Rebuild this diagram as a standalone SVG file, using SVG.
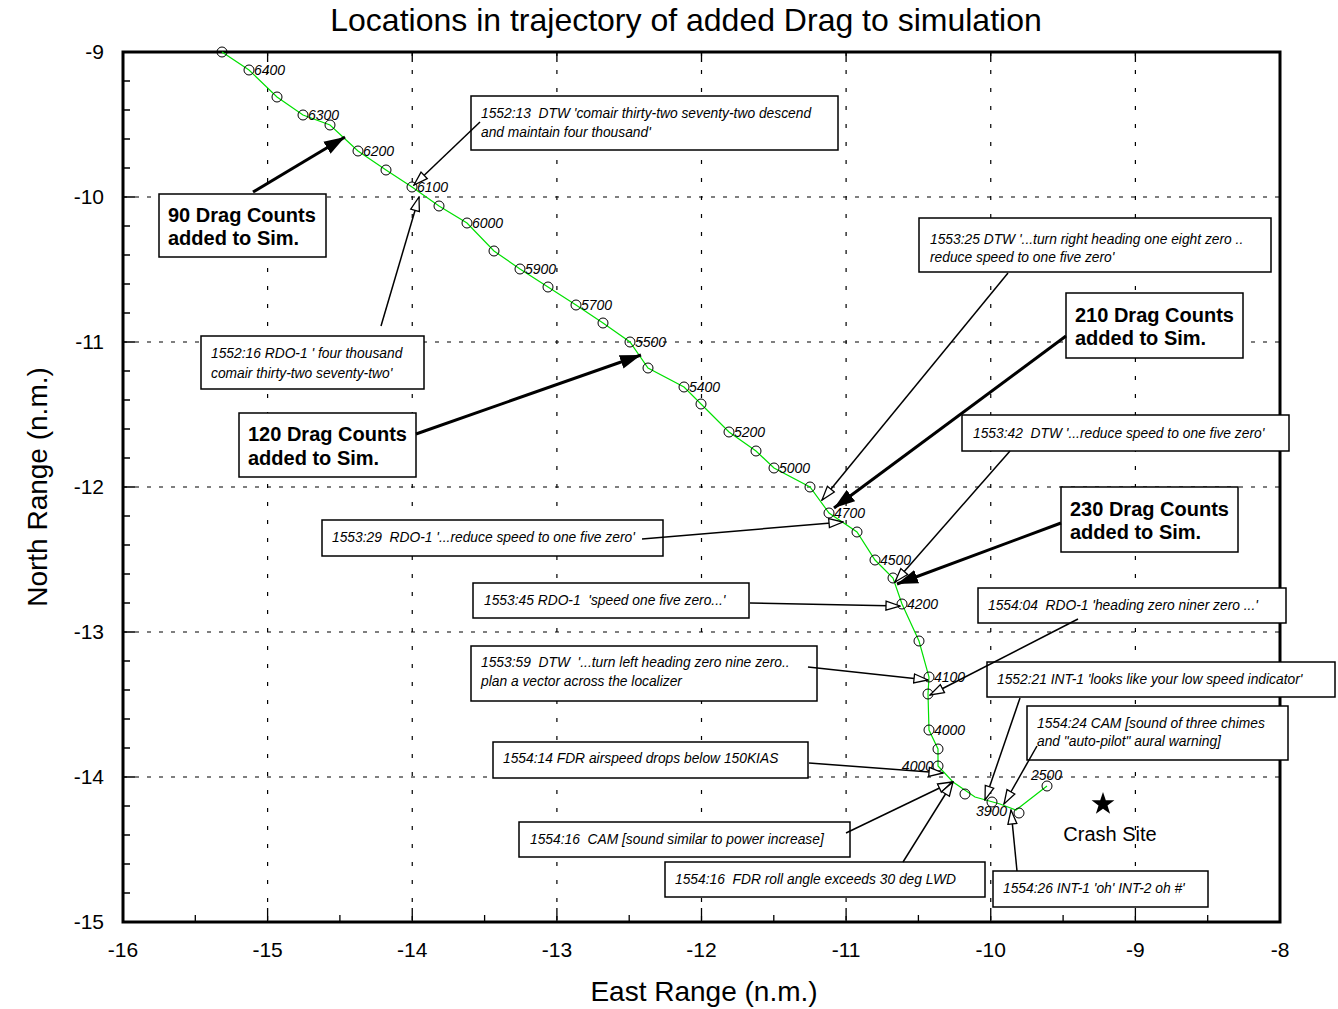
<svg xmlns="http://www.w3.org/2000/svg" width="1338" height="1009" viewBox="0 0 1338 1009">
<style>
text{font-family:"Liberation Sans",Arial,Helvetica,sans-serif;fill:#000}
.box{fill:#fff;stroke:#000;stroke-width:1.5}
.note{font-style:italic;font-size:13.8px;white-space:pre}
.big{font-weight:bold;font-size:20px}
.lbl{font-style:italic;font-size:14px}
.tick{font-size:21px}
.axis{font-size:28px}
.gv{stroke:#000;stroke-width:1.2;stroke-dasharray:4 14;fill:none}
.gh{stroke:#000;stroke-width:1.2;stroke-dasharray:4 8;fill:none}
.thin{stroke:#000;stroke-width:1.5;fill:none;marker-end:url(#open)}
.thick{stroke:#000;stroke-width:3;fill:none;marker-end:url(#solid)}
.pt{fill:none;stroke:#000;stroke-width:1}
</style>
<defs>
<marker id="open" markerUnits="userSpaceOnUse" markerWidth="16" markerHeight="12" viewBox="0 0 16 12" refX="15" refY="6" orient="auto">
<path d="M1,1.5 L15,6 L1,10.5 z" fill="#fff" stroke="#000" stroke-width="1.3"/>
</marker>
<marker id="solid" markerUnits="userSpaceOnUse" markerWidth="22" markerHeight="16" viewBox="0 0 22 16" refX="21" refY="8" orient="auto">
<path d="M0,1 L21,8 L0,15 z" fill="#000"/>
</marker>
</defs>
<rect width="1338" height="1009" fill="#fff"/>

<g id="title"><text x="686" y="31" text-anchor="middle" font-size="32">Locations in trajectory of added Drag to simulation</text></g>

<g id="grid">
<path class="gv" d="M267.6,52V922M412.25,52V922M556.9,52V922M701.5,52V922M846.1,52V922M990.75,52V922M1135.4,52V922"/>
<path class="gh" d="M123,197H1280M123,342H1280M123,487H1280M123,632H1280M123,777H1280"/>
</g>

<g id="axes">
<path stroke="#000" stroke-width="1.3" fill="none" d="M123,922v-14M195.3,922v-7M267.6,922v-14M339.9,922v-7M412.25,922v-14M484.6,922v-7M556.9,922v-14M629.2,922v-7M701.5,922v-14M773.8,922v-7M846.1,922v-14M918.4,922v-7M990.75,922v-14M1063.1,922v-7M1135.4,922v-14M1207.7,922v-7M1280,922v-14
M267.6,52v10M412.25,52v10M556.9,52v10M701.5,52v10M846.1,52v10M990.75,52v10M1135.4,52v10
M123,81h7M123,110h7M123,139h7M123,168h7M123,197h12M123,226h7M123,255h7M123,284h7M123,313h7M123,342h12M123,371h7M123,400h7M123,429h7M123,458h7M123,487h12M123,516h7M123,545h7M123,574h7M123,603h7M123,632h12M123,661h7M123,690h7M123,719h7M123,748h7M123,777h12M123,806h7M123,835h7M123,864h7M123,893h7"/>
<rect x="123" y="52" width="1157" height="870" fill="none" stroke="#000" stroke-width="3"/>
<g class="tick" text-anchor="middle">
<text x="123" y="957">-16</text><text x="267.6" y="957">-15</text><text x="412.25" y="957">-14</text><text x="556.9" y="957">-13</text><text x="701.5" y="957">-12</text><text x="846.1" y="957">-11</text><text x="990.75" y="957">-10</text><text x="1135.4" y="957">-9</text><text x="1280" y="957">-8</text>
</g>
<g class="tick" text-anchor="end">
<text x="104" y="59">-9</text><text x="104" y="204">-10</text><text x="104" y="349">-11</text><text x="104" y="494">-12</text><text x="104" y="639">-13</text><text x="104" y="784">-14</text><text x="104" y="929">-15</text>
</g>
<text class="axis" x="704" y="1001" text-anchor="middle">East Range (n.m.)</text>
<text class="axis" transform="translate(47,487) rotate(-90)" text-anchor="middle">North Range (n.m.)</text>
</g>

<g id="trajectory">
<polyline fill="none" stroke="#00e000" stroke-width="1.2" points="222,52 249,70 277,97 303,115 330,125 358,151 386,170 412,187 439,206 467,223 494,251 520,269 548,287 576,305 603,323 630,342 648,368 684,387 701,404 729,432 756,451 774,468 810,487 829,513 857,532 875,560 893,578 902,604 919,641 929,677 928,694 929,730 938,749 938,766 953,782 975,797 1000,804 1016,810 1047,786"/>
<g class="pt">
<circle cx="222" cy="52" r="5"/><circle cx="249" cy="70" r="5"/><circle cx="277" cy="97" r="5"/><circle cx="303" cy="115" r="5"/><circle cx="330" cy="125" r="5"/><circle cx="358" cy="151" r="5"/><circle cx="386" cy="170" r="5"/><circle cx="412" cy="187" r="5"/><circle cx="439" cy="206" r="5"/><circle cx="467" cy="223" r="5"/><circle cx="494" cy="251" r="5"/><circle cx="520" cy="269" r="5"/><circle cx="548" cy="287" r="5"/><circle cx="576" cy="305" r="5"/><circle cx="603" cy="323" r="5"/><circle cx="630" cy="342" r="5"/><circle cx="648" cy="368" r="5"/><circle cx="684" cy="387" r="5"/><circle cx="701" cy="404" r="5"/><circle cx="729" cy="432" r="5"/><circle cx="756" cy="451" r="5"/><circle cx="774" cy="468" r="5"/><circle cx="810" cy="487" r="5"/><circle cx="829" cy="513" r="5"/><circle cx="857" cy="532" r="5"/><circle cx="875" cy="560" r="5"/><circle cx="893" cy="578" r="5"/><circle cx="902" cy="604" r="5"/><circle cx="919" cy="641" r="5"/><circle cx="929" cy="677" r="5"/><circle cx="928" cy="694" r="5"/><circle cx="929" cy="730" r="5"/><circle cx="938" cy="749" r="5"/><circle cx="938" cy="766" r="5"/><circle cx="965" cy="794" r="5"/><circle cx="992" cy="802" r="5"/><circle cx="1019" cy="813" r="5"/><circle cx="1047" cy="786" r="5"/>
</g>
<g class="lbl">
<text x="254" y="75">6400</text><text x="308" y="120">6300</text><text x="363" y="156">6200</text><text x="417" y="192">6100</text><text x="472" y="228">6000</text><text x="525" y="274">5900</text><text x="581" y="310">5700</text><text x="635" y="347">5500</text><text x="689" y="392">5400</text><text x="734" y="437">5200</text><text x="779" y="473">5000</text><text x="834" y="518">4700</text><text x="880" y="565">4500</text><text x="907" y="609">4200</text><text x="934" y="682">4100</text><text x="934" y="735">4000</text><text x="933" y="771" text-anchor="end">4000</text><text x="976" y="816">3900</text><text x="1031" y="780">2500</text>
</g>
</g>

<g id="crash-site">
<path d="M1103,792 L1105.8,800.2 L1114.4,800.3 L1107.5,805.4 L1110.1,813.7 L1103,808.7 L1095.9,813.7 L1098.5,805.4 L1091.6,800.3 L1100.2,800.2 z" fill="#000"/>
<text x="1110" y="841" text-anchor="middle" font-size="20">Crash Site</text>
</g>

<g id="note-1552-13"><rect class="box" x="471" y="96" width="367" height="54"/><text class="note" x="481" y="118">1552:13  DTW 'comair thirty-two seventy-two descend</text><text class="note" x="481" y="137">and maintain four thousand'</text></g>
<g id="note-1552-16"><rect class="box" x="201" y="336" width="223" height="53"/><text class="note" x="211" y="358">1552:16 RDO-1 ' four thousand</text><text class="note" x="211" y="378">comair thirty-two seventy-two'</text></g>
<g id="drag-90"><rect class="box" x="159" y="194" width="167" height="63"/><text class="big" x="168" y="222">90 Drag Counts</text><text class="big" x="168" y="245">added to Sim.</text></g>
<g id="drag-120"><rect class="box" x="239" y="413" width="177" height="64"/><text class="big" x="248" y="441">120 Drag Counts</text><text class="big" x="248" y="465">added to Sim.</text></g>
<g id="note-1553-25"><rect class="box" x="919" y="218" width="352" height="54"/><text class="note" x="930" y="244">1553:25 DTW '...turn right heading one eight zero ..</text><text class="note" x="930" y="262">reduce speed to one five zero'</text></g>
<g id="drag-210"><rect class="box" x="1066" y="293" width="177" height="65"/><text class="big" x="1075" y="322">210 Drag Counts</text><text class="big" x="1075" y="345">added to Sim.</text></g>
<g id="note-1553-42"><rect class="box" x="962" y="415" width="327" height="36"/><text class="note" x="973" y="438">1553:42  DTW '...reduce speed to one five zero'</text></g>
<g id="drag-230"><rect class="box" x="1061" y="487" width="177" height="65"/><text class="big" x="1070" y="516">230 Drag Counts</text><text class="big" x="1070" y="539">added to Sim.</text></g>
<g id="note-1553-29"><rect class="box" x="322" y="520" width="341" height="36"/><text class="note" x="332" y="542">1553:29  RDO-1 '...reduce speed to one five zero'</text></g>
<g id="note-1553-45"><rect class="box" x="473" y="583" width="276" height="35"/><text class="note" x="484" y="605">1553:45 RDO-1  'speed one five zero...'</text></g>
<g id="note-1553-59"><rect class="box" x="471" y="646" width="346" height="55"/><text class="note" x="481" y="667">1553:59  DTW  '...turn left heading zero nine zero..</text><text class="note" x="481" y="686">plan a vector across the localizer</text></g>
<g id="note-1554-04"><rect class="box" x="978" y="588" width="308" height="35"/><text class="note" x="988" y="610">1554:04  RDO-1 'heading zero niner zero ...'</text></g>
<g id="note-1552-21"><rect class="box" x="987" y="662" width="348" height="35"/><text class="note" x="997" y="684">1552:21 INT-1 'looks like your low speed indicator'</text></g>
<g id="note-1554-24"><rect class="box" x="1027" y="706" width="261" height="54"/><text class="note" x="1037" y="728">1554:24 CAM [sound of three chimes</text><text class="note" x="1037" y="746">and "auto-pilot" aural warning]</text></g>
<g id="note-1554-26"><rect class="box" x="993" y="871" width="215" height="36"/><text class="note" x="1003" y="893">1554:26 INT-1 'oh' INT-2 oh #'</text></g>
<g id="note-1554-14"><rect class="box" x="493" y="742" width="315" height="36"/><text class="note" x="503" y="763">1554:14 FDR airspeed drops below 150KIAS</text></g>
<g id="note-1554-16-cam"><rect class="box" x="519" y="822" width="331" height="35"/><text class="note" x="530" y="844">1554:16  CAM [sound similar to power increase]</text></g>
<g id="note-1554-16-fdr"><rect class="box" x="665" y="862" width="320" height="35"/><text class="note" x="675" y="884">1554:16  FDR roll angle exceeds 30 deg LWD</text></g>

<g id="connectors">
<line class="thin" x1="480" y1="122" x2="414" y2="185"/>
<line class="thin" x1="381" y1="326" x2="419" y2="197"/>
<line class="thick" x1="253" y1="192" x2="345" y2="137"/>
<line class="thick" x1="416" y1="434" x2="641" y2="355"/>
<line class="thin" x1="1008" y1="273" x2="822" y2="500"/>
<line class="thick" x1="1066" y1="336" x2="834" y2="508"/>
<line class="thin" x1="1010" y1="451" x2="895" y2="582"/>
<line class="thick" x1="1061" y1="523" x2="897" y2="584"/>
<line class="thin" x1="642" y1="539" x2="843" y2="522"/>
<line class="thin" x1="750" y1="603" x2="900" y2="606"/>
<line class="thin" x1="808" y1="667" x2="928" y2="680"/>
<line class="thin" x1="1078" y1="619" x2="930" y2="695"/>
<line class="thin" x1="1020" y1="698" x2="985" y2="800"/>
<line class="thin" x1="1037" y1="746" x2="1004" y2="804"/>
<line class="thin" x1="1017" y1="871" x2="1011" y2="810"/>
<line class="thin" x1="809" y1="763" x2="943" y2="773"/>
<line class="thin" x1="846" y1="833" x2="952" y2="782"/>
<line class="thin" x1="903" y1="862" x2="953" y2="782"/>
</g>
</svg>
